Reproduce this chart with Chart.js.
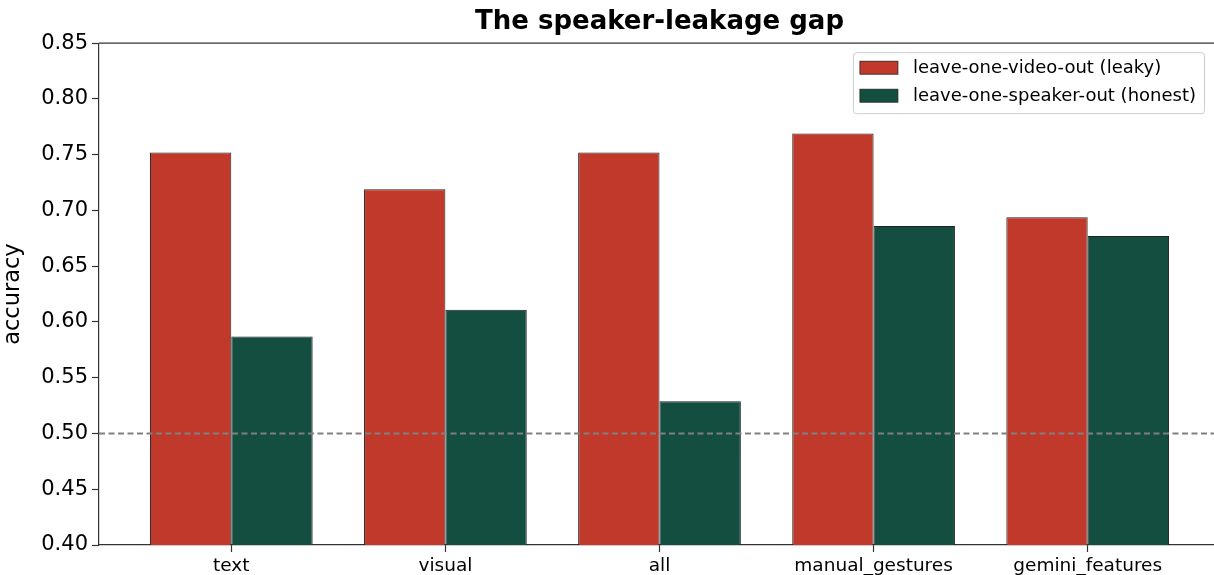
<!DOCTYPE html>
<html>
<head>
<meta charset="utf-8">
<script src="https://cdn.jsdelivr.net/npm/chart.js@4.4.1/dist/chart.umd.min.js"></script>
<style>
  html, body { margin: 0; padding: 0; background: #fff; overflow: hidden; }
  canvas { display: block; }
</style>
</head>
<body>
<canvas id="gapChart" width="1222" height="600"></canvas>
<script>
// values
const categories = ['text', 'visual', 'all', 'manual_gestures', 'gemini_features'];
const leakyAcc = [0.752, 0.719, 0.752, 0.769, 0.694];
const honestAcc = [0.587, 0.611, 0.529, 0.686, 0.677];
const yTicks = [0.40, 0.45, 0.50, 0.55, 0.60, 0.65, 0.70, 0.75, 0.80, 0.85];
const chanceLevel = 0.5;

const leakyColor = '#c0392b'
const honestColor = '#134e40'
const edgeColor = '#222222'
const spineColor = '#333333'
const fontFamily = '"DejaVu Sans", sans-serif'

// dashed chance line + top spine + boxed legend inside the axes
const extras = {
    id: 'extras',
    afterDatasetsDraw(chart) {
        const {ctx, chartArea: {left, right, top}, scales: {y}} = chart;
        const yy = y.getPixelForValue(chanceLevel);
        ctx.save()
        ctx.strokeStyle = '#808080'
        ctx.lineWidth = 1.8
        ctx.setLineDash([6, 3.5])
        ctx.beginPath()
        ctx.moveTo(left, yy)
        ctx.lineTo(right, yy)
        ctx.stroke()
        ctx.restore()

        ctx.save()
        ctx.strokeStyle = spineColor
        ctx.lineWidth = 1.2
        ctx.beginPath()
        ctx.moveTo(left, top)
        ctx.lineTo(right, top)
        ctx.stroke()
        ctx.restore()
    },
    afterDraw(chart) {
        const {ctx, chartArea: {right, top}} = chart;
        const sets = chart.data.datasets;
        ctx.save()
        ctx.font = '18px ' + fontFamily
        let textW = 0
        sets.forEach(ds => { textW = Math.max(textW, ctx.measureText(ds.label).width) })
        const boxW = 60 + textW + 8
        const boxH = 61
        const bx = right - 16 - boxW
        const by = top + 9
        ctx.fillStyle = 'rgba(255,255,255,0.8)'
        ctx.strokeStyle = '#cccccc'
        ctx.lineWidth = 1
        ctx.beginPath()
        ctx.roundRect(bx + 0.5, by + 0.5, boxW, boxH, 3)
        ctx.fill()
        ctx.stroke()
        sets.forEach((ds, i) => {
            const sy = by + 9 + i * 28
            ctx.fillStyle = ds.backgroundColor
            ctx.fillRect(bx + 7, sy, 38, 13)
            ctx.strokeStyle = edgeColor
            ctx.lineWidth = 0.8
            ctx.strokeRect(bx + 7, sy, 38, 13)
            ctx.fillStyle = '#000'
            ctx.textAlign = 'left'
            ctx.textBaseline = 'middle'
            ctx.fillText(ds.label, bx + 60, sy + 7)
        })
        ctx.restore()
    }
}

const data = {
    datasets: [{
        label: 'leave-one-video-out (leaky)',
        data: categories.map((c, i) => ({x: i, y: leakyAcc[i]})),
        backgroundColor: leakyColor,
        borderColor: edgeColor,
        borderWidth: 1
    }, {
        label: 'leave-one-speaker-out (honest)',
        data: categories.map((c, i) => ({x: i, y: honestAcc[i]})),
        backgroundColor: honestColor,
        borderColor: edgeColor,
        borderWidth: 1
    }]
};

const config = {
    type: 'bar',
    data: data,
    plugins: [extras],
    options: {
        responsive: false,
        animation: false,
        categoryPercentage: 0.76,
        barPercentage: 1,
        layout: { padding: { left: 0, right: 2, top: 0, bottom: 0 } },
        scales: {
            x: {
                type: 'linear',
                offset: false,
                min: -0.618,
                max: 4.618,
                afterBuildTicks: (scale) => {
                    scale.ticks = categories.map((c, i) => ({value: i}))
                },
                afterFit: (scale) => { scale.height = 55 },
                ticks: {
                    callback: (v) => categories[v],
                    font: { family: fontFamily, size: 18.5 },
                    color: '#000',
                    padding: 3,
                    maxRotation: 0,
                    autoSkip: false
                },
                grid: {
                    offset: false,
                    drawOnChartArea: false,
                    tickLength: 7,
                    tickWidth: 1.2,
                    color: spineColor
                },
                border: { color: spineColor, width: 1.2 }
            },
            y: {
                min: yTicks[0],
                max: yTicks[yTicks.length - 1],
                afterBuildTicks: (scale) => {
                    scale.ticks = yTicks.map(v => ({value: v}))
                },
                afterFit: (scale) => { scale.width = 99 },
                ticks: {
                    callback: (v) => v.toFixed(2),
                    font: { family: fontFamily, size: 21 },
                    color: '#000',
                    padding: 4
                },
                grid: {
                    drawOnChartArea: false,
                    tickLength: 7,
                    tickWidth: 1.2,
                    color: spineColor
                },
                border: { color: spineColor, width: 1.2 },
                title: {
                    display: true,
                    text: 'accuracy',
                    font: { family: fontFamily, size: 22.5 },
                    color: '#000',
                    padding: { top: 0, bottom: 0 }
                }
            }
        },
        plugins: {
            legend: { display: false },
            tooltip: { enabled: false },
            title: {
                display: true,
                fullSize: false,
                text: 'The speaker-leakage gap',
                font: { family: fontFamily, size: 26, weight: 'bold' },
                color: '#000',
                padding: { top: 7, bottom: 5 }
            }
        }
    }
};

new Chart(document.getElementById('gapChart').getContext('2d'), config);
</script>
</body>
</html>
